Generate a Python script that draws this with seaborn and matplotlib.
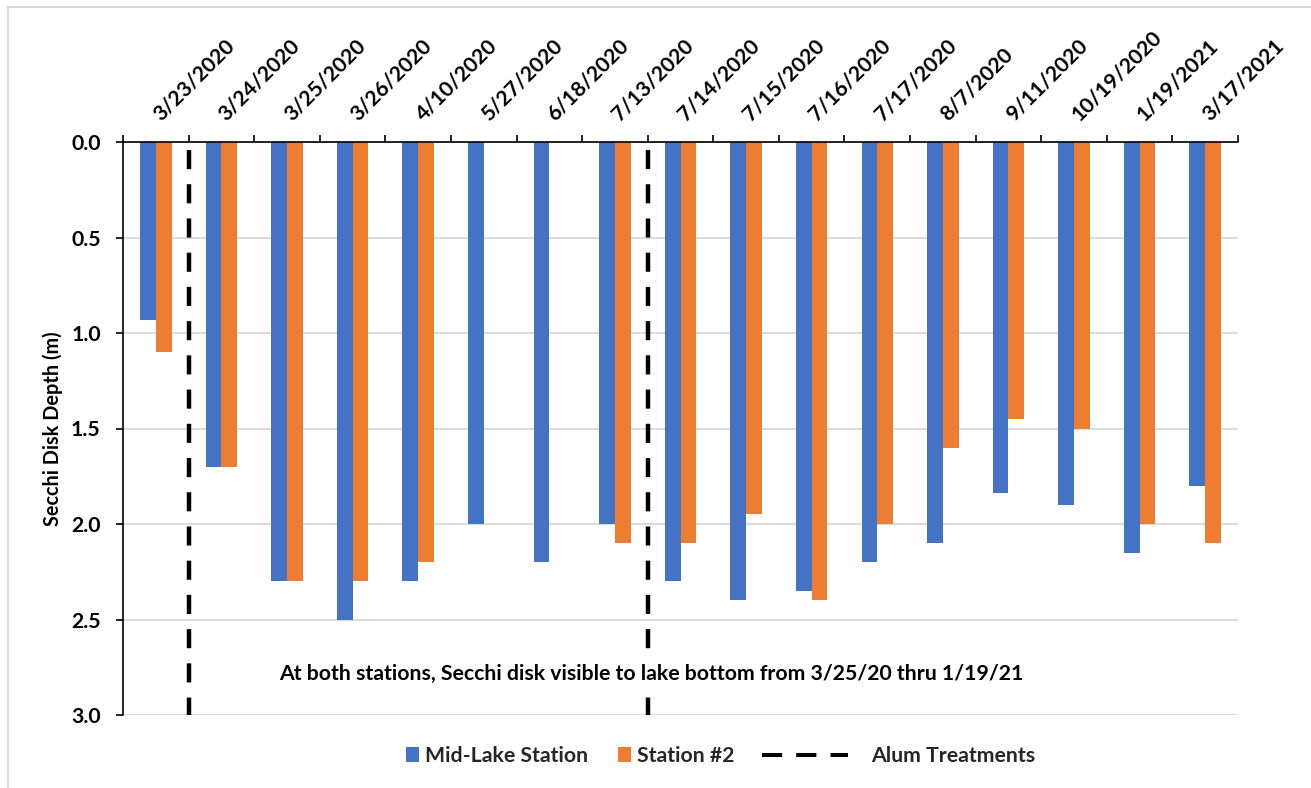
import numpy as np
import pandas as pd
import matplotlib
matplotlib.use("Agg")
import matplotlib.pyplot as plt
import matplotlib.patches as mpatches
import matplotlib.transforms as mtransforms
from matplotlib.lines import Line2D
import seaborn as sns

# Sampling dates (category axis)
dates = ["3/23/2020", "3/24/2020", "3/25/2020", "3/26/2020", "4/10/2020",
         "5/27/2020", "6/18/2020", "7/13/2020", "7/14/2020", "7/15/2020",
         "7/16/2020", "7/17/2020", "8/7/2020", "9/11/2020", "10/19/2020",
         "1/19/2021", "3/17/2021"]

# Secchi disk depth (m) at each station
mid_lake = [0.93, 1.70, 2.30, 2.50, 2.30, 2.00, 2.20, 2.00, 2.30, 2.40,
            2.35, 2.20, 2.10, 1.84, 1.90, 2.15, 1.80]
station_2 = [1.10, 1.70, 2.30, 2.30, 2.20, np.nan, np.nan, 2.10, 2.10, 1.95,
             2.40, 2.00, 1.60, 1.45, 1.50, 2.00, 2.10]

stations = ["Mid-Lake Station", "Station #2"]
station_colors = ["#4472C4", "#ED7D31"]

# Alum treatments took place right after these sampling dates
treatment_after = ["3/23/2020", "7/13/2020"]
treatment_label = "Alum Treatments"

y_ticks = [0.0, 0.5, 1.0, 1.5, 2.0, 2.5, 3.0]
y_label = "Secchi Disk Depth (m)"
note = "At both stations, Secchi disk visible to lake bottom from 3/25/20 thru 1/19/21"
note_depth = 2.785

FS = 15.3

sns.set_theme(style="white")
plt.rcParams["font.family"] = ["Lato", "DejaVu Sans"]
plt.rcParams["font.weight"] = "bold"
plt.rcParams["axes.labelweight"] = "bold"

df = pd.DataFrame({
    "date": dates * 2,
    "station": [s for s in stations for _ in dates],
    "depth": mid_lake + station_2,
})

W, H = 1311, 788
fig = plt.figure(figsize=(W / 100, H / 100), dpi=100)
fig.patch.set_facecolor("white")
ax = fig.add_axes([123 / W, 1 - 715 / H, (1238 - 123) / W, (715 - 142) / H])

sns.barplot(data=df, x="date", y="depth", hue="station", order=dates,
            hue_order=stations, palette=station_colors, saturation=1,
            width=0.48, gap=0, linewidth=0, errorbar=None, legend=False, ax=ax)

n = len(dates)
ax.set_xlim(-0.5, n - 0.5)
ax.set_ylim(3.0, 0.0)

# value axis
ax.set_yticks(y_ticks)
ax.set_yticklabels([f"{v:.1f}" for v in y_ticks])
ax.tick_params(axis="y", which="major", left=True, length=5, width=1.2,
               color="black", direction="out", pad=11,
               labelsize=FS, labelcolor="black")
ax.yaxis.grid(True, color="#D9D9D9", linewidth=1.3)
ax.xaxis.grid(False)
ax.set_axisbelow(True)
ax.set_ylabel(y_label, fontsize=14.3, color="black")
ax.yaxis.set_label_coords(-0.054, 0.5)
ax.set_xlabel("")

# category axis along the top, with ticks between dates
ax.set_xticks(np.arange(-0.5, n, 1.0))
ax.set_xticklabels([])
ax.tick_params(axis="x", which="major", top=True, bottom=False, labeltop=False,
               labelbottom=False, direction="out", length=5, width=1.2,
               color="black")
label_trans = (mtransforms.blended_transform_factory(ax.transData, ax.transAxes)
               + mtransforms.ScaledTranslation(3.6 / 72, 14.4 / 72, fig.dpi_scale_trans))
for i, d in enumerate(dates):
    ax.text(i, 1.0, d, transform=label_trans, rotation=45, rotation_mode="anchor",
            ha="left", va="baseline", fontsize=FS, color="black", clip_on=False)

for side in ["bottom", "right"]:
    ax.spines[side].set_visible(False)
for side in ["top", "left"]:
    ax.spines[side].set_visible(True)
    ax.spines[side].set_color("black")
    ax.spines[side].set_linewidth(1.2)

# alum treatment markers between sampling dates
treat_x = [dates.index(d) + 0.5 for d in treatment_after]
ax.vlines(treat_x, 0.04, 3.0, colors="black", linewidth=3.2,
          linestyles=(0, (4.3, 3.4)), zorder=4)

ax.text(7.56, note_depth, note, ha="center", va="center", fontsize=FS,
        color="black", zorder=5,
        bbox=dict(facecolor="white", edgecolor="none", pad=2))

# legend: station patches, then the treatment line
patch_handles = [mpatches.Patch(facecolor=c, edgecolor="none", label=s)
                 for s, c in zip(stations, station_colors)]
fig.legend(handles=patch_handles, loc="center left",
           bbox_to_anchor=(406 / W, 1 - 756 / H), ncol=2, frameon=False,
           fontsize=FS, handlelength=0.61, handleheight=0.66,
           handletextpad=0.28, columnspacing=1.4, borderpad=0,
           borderaxespad=0)
line_handle = Line2D([], [], color="black", linewidth=2.9,
                     linestyle=(0, (5.0, 3.5)), label=treatment_label)
fig.legend(handles=[line_handle], loc="center left",
           bbox_to_anchor=(762 / W, 1 - 756 / H), frameon=False,
           fontsize=FS, handlelength=4.05, handletextpad=1.08,
           borderpad=0, borderaxespad=0)

# chart area border
fig.add_artist(mpatches.Rectangle((7.5 / W, -0.1), 1.2, 1.1 - 7.5 / H,
                                  transform=fig.transFigure, fill=False,
                                  edgecolor="#D9D9D9", linewidth=1.5))

fig.savefig("out.png", dpi=100, facecolor="white")
